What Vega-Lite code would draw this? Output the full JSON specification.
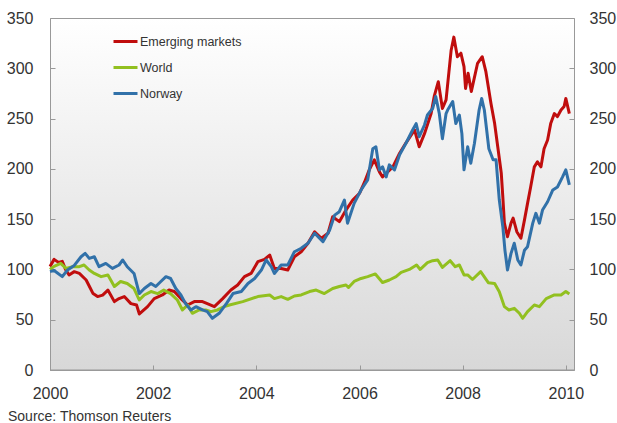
{
  "$schema": "https://vega.github.io/schema/vega-lite/v6.json",
  "width": 524,
  "height": 352,
  "autosize": {"type": "none"},
  "padding": {"left": 50, "top": 18, "right": 43, "bottom": 53},
  "background": "white",
  "view": {
    "fill": {"gradient": "linear", "x1": 0, "y1": 0, "x2": 0, "y2": 1, "stops": [{"offset": 0, "color": "#ffffff"}, {"offset": 1, "color": "#d8d8d8"}]},
    "stroke": "#999999",
    "strokeWidth": 1
  },
  "title": {"text": "Source: Thomson Reuters", "orient": "bottom", "anchor": "start", "frame": "group", "offset": 9, "dx": -42, "fontSize": 14, "font": "Liberation Sans", "fontWeight": "normal", "color": "#333333"},
  "config": {
    "font": "Liberation Sans",
    "axis": {"labelFont": "Liberation Sans", "labelFontSize": 16, "labelColor": "#333333", "tickColor": "#999999", "domain": false, "grid": false, "title": null}
  },
  "data": {"values": [
    {"date":"2000-01-01","series":"Emerging markets","value":103},
    {"date":"2000-01-30","series":"Emerging markets","value":110},
    {"date":"2000-03-01","series":"Emerging markets","value":107},
    {"date":"2000-03-28","series":"Emerging markets","value":108},
    {"date":"2000-04-20","series":"Emerging markets","value":100},
    {"date":"2000-05-15","series":"Emerging markets","value":94.5},
    {"date":"2000-06-21","series":"Emerging markets","value":97.8},
    {"date":"2000-07-27","series":"Emerging markets","value":96},
    {"date":"2000-09-13","series":"Emerging markets","value":89.5},
    {"date":"2000-10-10","series":"Emerging markets","value":82},
    {"date":"2000-11-01","series":"Emerging markets","value":76},
    {"date":"2000-12-03","series":"Emerging markets","value":73},
    {"date":"2001-01-08","series":"Emerging markets","value":74.5},
    {"date":"2001-02-14","series":"Emerging markets","value":79.5},
    {"date":"2001-04-01","series":"Emerging markets","value":68},
    {"date":"2001-05-04","series":"Emerging markets","value":71},
    {"date":"2001-06-10","series":"Emerging markets","value":73},
    {"date":"2001-07-27","series":"Emerging markets","value":66},
    {"date":"2001-09-05","series":"Emerging markets","value":64.6},
    {"date":"2001-09-25","series":"Emerging markets","value":55.7},
    {"date":"2001-11-22","series":"Emerging markets","value":63},
    {"date":"2002-01-08","series":"Emerging markets","value":71},
    {"date":"2002-03-07","series":"Emerging markets","value":74.6},
    {"date":"2002-04-23","series":"Emerging markets","value":79.5},
    {"date":"2002-05-30","series":"Emerging markets","value":78},
    {"date":"2002-07-16","series":"Emerging markets","value":71},
    {"date":"2002-09-02","series":"Emerging markets","value":64.6},
    {"date":"2002-10-19","series":"Emerging markets","value":68},
    {"date":"2002-12-16","series":"Emerging markets","value":68},
    {"date":"2003-01-19","series":"Emerging markets","value":66},
    {"date":"2003-03-10","series":"Emerging markets","value":63},
    {"date":"2003-05-08","series":"Emerging markets","value":71},
    {"date":"2003-07-05","series":"Emerging markets","value":79.5},
    {"date":"2003-08-22","series":"Emerging markets","value":84.5},
    {"date":"2003-10-09","series":"Emerging markets","value":92.8},
    {"date":"2003-11-25","series":"Emerging markets","value":96},
    {"date":"2004-01-12","series":"Emerging markets","value":107.7},
    {"date":"2004-02-28","series":"Emerging markets","value":110},
    {"date":"2004-04-05","series":"Emerging markets","value":114.3},
    {"date":"2004-05-08","series":"Emerging markets","value":101},
    {"date":"2004-06-25","series":"Emerging markets","value":101},
    {"date":"2004-08-11","series":"Emerging markets","value":99.4},
    {"date":"2004-09-27","series":"Emerging markets","value":112.6},
    {"date":"2004-11-14","series":"Emerging markets","value":117.6},
    {"date":"2005-01-01","series":"Emerging markets","value":126},
    {"date":"2005-02-17","series":"Emerging markets","value":137.5},
    {"date":"2005-04-06","series":"Emerging markets","value":131},
    {"date":"2005-05-23","series":"Emerging markets","value":136},
    {"date":"2005-06-25","series":"Emerging markets","value":152.4},
    {"date":"2005-08-11","series":"Emerging markets","value":147.5},
    {"date":"2005-09-27","series":"Emerging markets","value":159},
    {"date":"2005-11-14","series":"Emerging markets","value":169},
    {"date":"2006-01-01","series":"Emerging markets","value":175.7},
    {"date":"2006-02-06","series":"Emerging markets","value":187},
    {"date":"2006-03-11","series":"Emerging markets","value":199},
    {"date":"2006-04-16","series":"Emerging markets","value":209},
    {"date":"2006-05-22","series":"Emerging markets","value":197},
    {"date":"2006-06-13","series":"Emerging markets","value":192},
    {"date":"2006-08-25","series":"Emerging markets","value":202},
    {"date":"2006-10-12","series":"Emerging markets","value":215.5},
    {"date":"2006-11-24","series":"Emerging markets","value":225.4},
    {"date":"2007-01-26","series":"Emerging markets","value":238.6},
    {"date":"2007-02-28","series":"Emerging markets","value":222},
    {"date":"2007-04-06","series":"Emerging markets","value":235},
    {"date":"2007-05-23","series":"Emerging markets","value":255},
    {"date":"2007-06-14","series":"Emerging markets","value":272},
    {"date":"2007-07-13","series":"Emerging markets","value":286.7},
    {"date":"2007-08-11","series":"Emerging markets","value":260},
    {"date":"2007-09-06","series":"Emerging markets","value":268.5},
    {"date":"2007-10-12","series":"Emerging markets","value":318},
    {"date":"2007-10-31","series":"Emerging markets","value":331},
    {"date":"2007-11-25","series":"Emerging markets","value":311.5},
    {"date":"2007-12-20","series":"Emerging markets","value":315},
    {"date":"2008-01-11","series":"Emerging markets","value":301.6},
    {"date":"2008-01-22","series":"Emerging markets","value":280},
    {"date":"2008-02-09","series":"Emerging markets","value":295},
    {"date":"2008-03-03","series":"Emerging markets","value":277},
    {"date":"2008-04-16","series":"Emerging markets","value":305},
    {"date":"2008-05-19","series":"Emerging markets","value":311.5},
    {"date":"2008-06-14","series":"Emerging markets","value":296.6},
    {"date":"2008-07-20","series":"Emerging markets","value":265},
    {"date":"2008-08-15","series":"Emerging markets","value":245},
    {"date":"2008-09-06","series":"Emerging markets","value":222},
    {"date":"2008-10-01","series":"Emerging markets","value":195.6},
    {"date":"2008-10-12","series":"Emerging markets","value":172},
    {"date":"2008-10-23","series":"Emerging markets","value":146},
    {"date":"2008-11-14","series":"Emerging markets","value":132.5},
    {"date":"2008-12-09","series":"Emerging markets","value":146},
    {"date":"2008-12-24","series":"Emerging markets","value":151},
    {"date":"2009-01-19","series":"Emerging markets","value":137.5},
    {"date":"2009-02-17","series":"Emerging markets","value":131},
    {"date":"2009-03-14","series":"Emerging markets","value":149},
    {"date":"2009-04-05","series":"Emerging markets","value":165.7},
    {"date":"2009-04-27","series":"Emerging markets","value":182},
    {"date":"2009-05-23","series":"Emerging markets","value":202},
    {"date":"2009-06-14","series":"Emerging markets","value":207},
    {"date":"2009-07-09","series":"Emerging markets","value":202},
    {"date":"2009-07-31","series":"Emerging markets","value":220},
    {"date":"2009-08-25","series":"Emerging markets","value":228.7},
    {"date":"2009-09-16","series":"Emerging markets","value":245},
    {"date":"2009-10-12","series":"Emerging markets","value":255},
    {"date":"2009-11-03","series":"Emerging markets","value":252},
    {"date":"2009-11-28","series":"Emerging markets","value":258.5},
    {"date":"2009-12-20","series":"Emerging markets","value":262},
    {"date":"2010-01-01","series":"Emerging markets","value":270},
    {"date":"2010-01-26","series":"Emerging markets","value":255},
    {"date":"2000-01-01","series":"World","value":100},
    {"date":"2000-01-30","series":"World","value":103},
    {"date":"2000-03-17","series":"World","value":106},
    {"date":"2000-04-23","series":"World","value":101},
    {"date":"2000-06-10","series":"World","value":102.7},
    {"date":"2000-07-27","series":"World","value":102.7},
    {"date":"2000-08-29","series":"World","value":104.4},
    {"date":"2000-10-05","series":"World","value":99.4},
    {"date":"2000-11-10","series":"World","value":96},
    {"date":"2000-12-28","series":"World","value":92.8},
    {"date":"2001-02-14","series":"World","value":94.5},
    {"date":"2001-04-01","series":"World","value":83},
    {"date":"2001-05-15","series":"World","value":88},
    {"date":"2001-07-01","series":"World","value":86},
    {"date":"2001-08-18","series":"World","value":81},
    {"date":"2001-09-24","series":"World","value":69.6},
    {"date":"2001-10-30","series":"World","value":74.6},
    {"date":"2001-12-16","series":"World","value":78},
    {"date":"2002-02-02","series":"World","value":76},
    {"date":"2002-03-17","series":"World","value":79.5},
    {"date":"2002-05-04","series":"World","value":76},
    {"date":"2002-06-21","series":"World","value":69.6},
    {"date":"2002-07-27","series":"World","value":59.7},
    {"date":"2002-09-02","series":"World","value":64.6},
    {"date":"2002-10-05","series":"World","value":56.4},
    {"date":"2002-11-22","series":"World","value":59.7},
    {"date":"2003-01-08","series":"World","value":59.7},
    {"date":"2003-02-14","series":"World","value":58},
    {"date":"2003-04-01","series":"World","value":59.7},
    {"date":"2003-05-19","series":"World","value":63},
    {"date":"2003-06-25","series":"World","value":64.6},
    {"date":"2003-09-27","series":"World","value":68},
    {"date":"2004-01-12","series":"World","value":73},
    {"date":"2004-04-05","series":"World","value":74.6},
    {"date":"2004-05-08","series":"World","value":71},
    {"date":"2004-06-25","series":"World","value":73},
    {"date":"2004-08-11","series":"World","value":70.3},
    {"date":"2004-09-27","series":"World","value":73.6},
    {"date":"2004-11-14","series":"World","value":74.6},
    {"date":"2005-01-12","series":"World","value":78},
    {"date":"2005-02-28","series":"World","value":79.5},
    {"date":"2005-04-27","series":"World","value":76},
    {"date":"2005-06-25","series":"World","value":81},
    {"date":"2005-08-11","series":"World","value":83},
    {"date":"2005-09-27","series":"World","value":84.5},
    {"date":"2005-10-15","series":"World","value":82},
    {"date":"2005-11-24","series":"World","value":88},
    {"date":"2006-01-12","series":"World","value":91},
    {"date":"2006-02-28","series":"World","value":92.8},
    {"date":"2006-04-23","series":"World","value":95.5},
    {"date":"2006-06-13","series":"World","value":87},
    {"date":"2006-07-31","series":"World","value":89.5},
    {"date":"2006-09-17","series":"World","value":92.8},
    {"date":"2006-10-23","series":"World","value":97},
    {"date":"2006-12-20","series":"World","value":100},
    {"date":"2007-02-09","series":"World","value":104.4},
    {"date":"2007-03-07","series":"World","value":100},
    {"date":"2007-04-27","series":"World","value":106.7},
    {"date":"2007-06-03","series":"World","value":108.7},
    {"date":"2007-07-09","series":"World","value":109.4},
    {"date":"2007-08-11","series":"World","value":102},
    {"date":"2007-10-05","series":"World","value":108.7},
    {"date":"2007-11-10","series":"World","value":102.7},
    {"date":"2007-12-09","series":"World","value":104.4},
    {"date":"2008-01-11","series":"World","value":94.5},
    {"date":"2008-02-06","series":"World","value":94.5},
    {"date":"2008-03-11","series":"World","value":90},
    {"date":"2008-05-08","series":"World","value":97.8},
    {"date":"2008-07-01","series":"World","value":86.8},
    {"date":"2008-08-15","series":"World","value":86},
    {"date":"2008-09-17","series":"World","value":77.9},
    {"date":"2008-10-23","series":"World","value":63},
    {"date":"2008-11-24","series":"World","value":59.7},
    {"date":"2009-01-01","series":"World","value":61.3},
    {"date":"2009-02-06","series":"World","value":56.4},
    {"date":"2009-03-01","series":"World","value":51.4},
    {"date":"2009-04-05","series":"World","value":58},
    {"date":"2009-05-23","series":"World","value":64.6},
    {"date":"2009-06-28","series":"World","value":63},
    {"date":"2009-08-15","series":"World","value":71},
    {"date":"2009-10-12","series":"World","value":74.6},
    {"date":"2009-11-28","series":"World","value":74.6},
    {"date":"2010-01-01","series":"World","value":78},
    {"date":"2010-01-26","series":"World","value":75.5},
    {"date":"2000-01-01","series":"Norway","value":97.8},
    {"date":"2000-01-30","series":"Norway","value":99},
    {"date":"2000-03-28","series":"Norway","value":92.8},
    {"date":"2000-05-04","series":"Norway","value":99.4},
    {"date":"2000-06-21","series":"Norway","value":104},
    {"date":"2000-08-08","series":"Norway","value":112.6},
    {"date":"2000-09-06","series":"Norway","value":116},
    {"date":"2000-10-05","series":"Norway","value":111},
    {"date":"2000-11-10","series":"Norway","value":112.6},
    {"date":"2000-12-13","series":"Norway","value":102.7},
    {"date":"2001-01-30","series":"Norway","value":106},
    {"date":"2001-03-18","series":"Norway","value":101},
    {"date":"2001-05-04","series":"Norway","value":104.4},
    {"date":"2001-05-30","series":"Norway","value":109.4},
    {"date":"2001-07-01","series":"Norway","value":102.7},
    {"date":"2001-08-18","series":"Norway","value":96},
    {"date":"2001-09-24","series":"Norway","value":76},
    {"date":"2001-10-30","series":"Norway","value":81},
    {"date":"2001-12-16","series":"Norway","value":86},
    {"date":"2002-01-19","series":"Norway","value":83},
    {"date":"2002-02-24","series":"Norway","value":88},
    {"date":"2002-04-01","series":"Norway","value":92.8},
    {"date":"2002-05-04","series":"Norway","value":91},
    {"date":"2002-06-10","series":"Norway","value":81},
    {"date":"2002-07-16","series":"Norway","value":74.6},
    {"date":"2002-08-18","series":"Norway","value":66},
    {"date":"2002-09-24","series":"Norway","value":59.7},
    {"date":"2002-10-30","series":"Norway","value":63},
    {"date":"2002-12-16","series":"Norway","value":59.7},
    {"date":"2003-01-19","series":"Norway","value":58},
    {"date":"2003-02-24","series":"Norway","value":51.4},
    {"date":"2003-04-13","series":"Norway","value":56.4},
    {"date":"2003-06-03","series":"Norway","value":66},
    {"date":"2003-07-20","series":"Norway","value":76},
    {"date":"2003-09-17","series":"Norway","value":78},
    {"date":"2003-11-03","series":"Norway","value":86},
    {"date":"2003-12-20","series":"Norway","value":91},
    {"date":"2004-02-06","series":"Norway","value":99.4},
    {"date":"2004-03-11","series":"Norway","value":109.4},
    {"date":"2004-04-16","series":"Norway","value":102.7},
    {"date":"2004-05-08","series":"Norway","value":96},
    {"date":"2004-06-25","series":"Norway","value":104.4},
    {"date":"2004-08-11","series":"Norway","value":104.4},
    {"date":"2004-09-27","series":"Norway","value":117.6},
    {"date":"2004-11-14","series":"Norway","value":121},
    {"date":"2005-01-01","series":"Norway","value":126},
    {"date":"2005-02-17","series":"Norway","value":136},
    {"date":"2005-04-17","series":"Norway","value":127.6},
    {"date":"2005-06-03","series":"Norway","value":139},
    {"date":"2005-07-09","series":"Norway","value":154},
    {"date":"2005-08-11","series":"Norway","value":157.4},
    {"date":"2005-09-16","series":"Norway","value":169},
    {"date":"2005-10-08","series":"Norway","value":146},
    {"date":"2005-11-24","series":"Norway","value":165.7},
    {"date":"2006-01-12","series":"Norway","value":179},
    {"date":"2006-02-28","series":"Norway","value":189},
    {"date":"2006-04-05","series":"Norway","value":220},
    {"date":"2006-04-27","series":"Norway","value":222},
    {"date":"2006-05-22","series":"Norway","value":199},
    {"date":"2006-06-13","series":"Norway","value":202},
    {"date":"2006-07-09","series":"Norway","value":192},
    {"date":"2006-07-31","series":"Norway","value":204},
    {"date":"2006-09-06","series":"Norway","value":199},
    {"date":"2006-10-12","series":"Norway","value":214},
    {"date":"2006-11-24","series":"Norway","value":225},
    {"date":"2007-01-12","series":"Norway","value":238.6},
    {"date":"2007-02-06","series":"Norway","value":245},
    {"date":"2007-02-28","series":"Norway","value":232},
    {"date":"2007-04-06","series":"Norway","value":243.6},
    {"date":"2007-04-27","series":"Norway","value":253.5},
    {"date":"2007-06-03","series":"Norway","value":260},
    {"date":"2007-06-25","series":"Norway","value":272},
    {"date":"2007-07-20","series":"Norway","value":255},
    {"date":"2007-08-11","series":"Norway","value":230},
    {"date":"2007-09-06","series":"Norway","value":255},
    {"date":"2007-09-17","series":"Norway","value":258.5},
    {"date":"2007-10-23","series":"Norway","value":267},
    {"date":"2007-11-14","series":"Norway","value":245},
    {"date":"2007-12-09","series":"Norway","value":253.5},
    {"date":"2007-12-27","series":"Norway","value":235},
    {"date":"2008-01-11","series":"Norway","value":199},
    {"date":"2008-02-06","series":"Norway","value":222},
    {"date":"2008-02-28","series":"Norway","value":205.5},
    {"date":"2008-03-25","series":"Norway","value":225.4},
    {"date":"2008-04-27","series":"Norway","value":258.5},
    {"date":"2008-05-15","series":"Norway","value":270},
    {"date":"2008-06-03","series":"Norway","value":258.5},
    {"date":"2008-07-05","series":"Norway","value":220},
    {"date":"2008-08-04","series":"Norway","value":209},
    {"date":"2008-08-25","series":"Norway","value":209},
    {"date":"2008-09-17","series":"Norway","value":169},
    {"date":"2008-10-12","series":"Norway","value":142.5},
    {"date":"2008-10-27","series":"Norway","value":119},
    {"date":"2008-11-14","series":"Norway","value":99.4},
    {"date":"2008-12-09","series":"Norway","value":116},
    {"date":"2009-01-01","series":"Norway","value":126},
    {"date":"2009-01-26","series":"Norway","value":109.4},
    {"date":"2009-02-17","series":"Norway","value":104.4},
    {"date":"2009-03-14","series":"Norway","value":119},
    {"date":"2009-04-05","series":"Norway","value":122.6},
    {"date":"2009-05-12","series":"Norway","value":146},
    {"date":"2009-06-03","series":"Norway","value":155.8},
    {"date":"2009-06-28","series":"Norway","value":146},
    {"date":"2009-07-20","series":"Norway","value":159},
    {"date":"2009-08-25","series":"Norway","value":167.3},
    {"date":"2009-10-01","series":"Norway","value":179},
    {"date":"2009-11-03","series":"Norway","value":182},
    {"date":"2009-12-09","series":"Norway","value":192},
    {"date":"2010-01-01","series":"Norway","value":199},
    {"date":"2010-01-26","series":"Norway","value":184}
  ]},
  "layer": [
    {
      "mark": {"type": "line", "strokeWidth": 3, "strokeJoin": "round"},
      "encoding": {
        "x": {"field": "date", "type": "temporal",
              "scale": {"type": "utc", "domain": [{"year": 2000, "month": 1, "date": 1, "utc": true}, {"year": 2010, "month": 2, "date": 28, "utc": true}]},
              "axis": {"orient": "bottom", "values": [{"year": 2000, "utc": true}, {"year": 2002, "utc": true}, {"year": 2004, "utc": true}, {"year": 2006, "utc": true}, {"year": 2008, "utc": true}, {"year": 2010, "utc": true}], "format": "%Y", "formatType": "utc", "tickSize": -5, "labelPadding": 20, "labelFlush": false}},
        "y": {"field": "value", "type": "quantitative",
              "scale": {"domain": [0, 350], "nice": false, "zero": true},
              "axis": {"orient": "left", "values": [0, 50, 100, 150, 200, 250, 300, 350], "tickSize": -5, "labelPadding": 22}},
        "color": {"field": "series", "type": "nominal",
                  "scale": {"domain": ["Emerging markets", "World", "Norway"], "range": ["#c00d0d", "#92c020", "#3171a9"]},
                  "legend": {"orient": "none", "legendX": 62, "legendY": 10, "direction": "vertical", "title": null, "symbolType": "stroke", "symbolSize": 576, "symbolStrokeWidth": 3, "labelFont": "Liberation Sans", "labelFontSize": 12.5, "labelColor": "#333333", "labelOffset": 1, "rowPadding": 6, "padding": 0}}
      }
    },
    {
      "data": {"values": [{"line": "baseline"}]},
      "mark": {"type": "rule", "color": "#999999", "strokeWidth": 1},
      "encoding": {
        "y": {"datum": 0, "type": "quantitative",
              "axis": {"orient": "right", "values": [0, 50, 100, 150, 200, 250, 300, 350], "tickSize": -5, "labelPadding": 20}}
      }
    }
  ],
  "resolve": {"axis": {"y": "independent"}}
}
